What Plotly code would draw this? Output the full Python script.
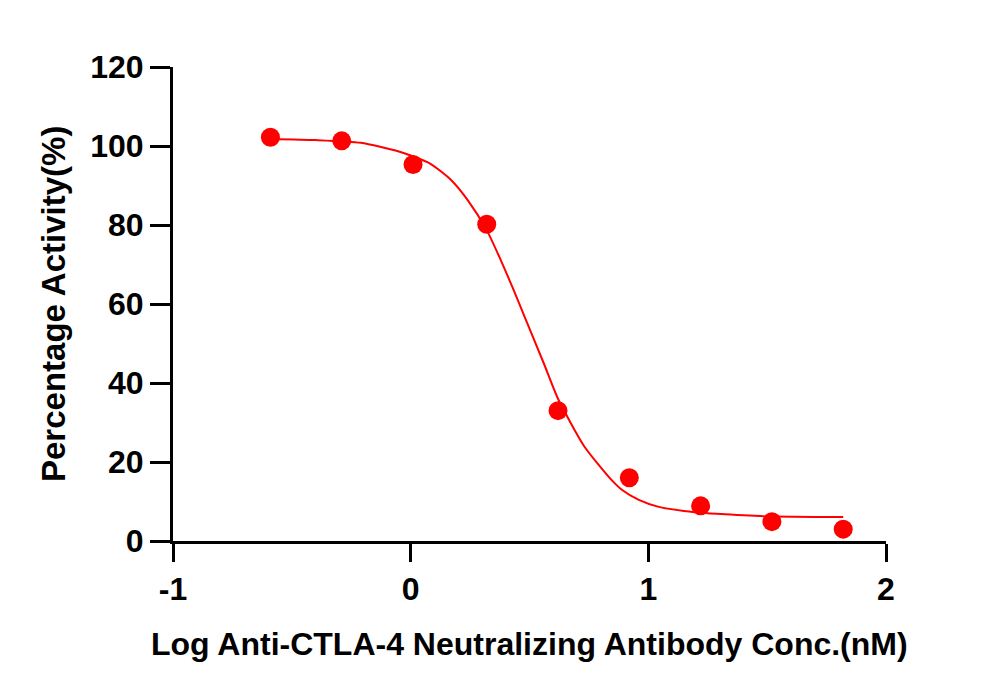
import plotly.graph_objects as go

# Measured data points
log_conc = [-0.59, -0.29, 0.01, 0.32, 0.62, 0.92, 1.22, 1.52, 1.82]
activity = [102.2, 101.3, 95.3, 80.2, 33.0, 16.0, 8.9, 4.9, 3.0]

# Fitted curve
curve_x = [-0.59, -0.40, -0.21, -0.05, 0.08, 0.17, 0.24, 0.32, 0.38, 0.43, 0.48,
           0.56, 0.62, 0.73, 0.84, 0.89, 0.96, 1.04, 1.15, 1.25, 1.40, 1.52, 1.70, 1.82]
curve_y = [101.8, 101.5, 100.8, 98.6, 95.6, 91.4, 86.3, 78.7, 71.0, 64.0, 56.7,
           45.0, 36.0, 24.0, 15.8, 12.9, 10.4, 8.7, 7.6, 7.0, 6.5, 6.2, 6.1, 6.1]

x_ticks = [-1, 0, 1, 2]
y_ticks = [0, 20, 40, 60, 80, 100, 120]
x_title = "Log Anti-CTLA-4 Neutralizing Antibody Conc.(nM)"
y_title = "Percentage Activity(%)"

RED = "#FF0000"
FONT = "Liberation Sans, Arial, sans-serif"

fig = go.Figure()
fig.add_trace(go.Scatter(x=curve_x, y=curve_y, mode="lines",
                         line=dict(color=RED, width=2, shape="spline", smoothing=0.6),
                         hoverinfo="skip", showlegend=False))
fig.add_trace(go.Scatter(x=log_conc, y=activity, mode="markers",
                         marker=dict(color=RED, size=19), showlegend=False))

fig.update_layout(
    width=1000, height=696,
    paper_bgcolor="white", plot_bgcolor="white",
    margin=dict(l=165, r=122, t=59, b=163),
    font=dict(family=FONT, color="black"),
    showlegend=False,
)
fig.update_xaxes(
    range=[-1, 2], tickvals=x_ticks, ticktext=[str(v) for v in x_ticks],
    showgrid=False, zeroline=False,
    showline=True, linecolor="black", linewidth=3,
    ticks="outside", ticklen=18, tickwidth=3, tickcolor="black",
    tickfont=dict(size=32, family=FONT, weight="bold"),
)
fig.update_yaxes(
    range=[0, 120], tickvals=y_ticks,
    showgrid=False, zeroline=False,
    showline=True, linecolor="black", linewidth=3,
    ticks="outside", ticklen=20, tickwidth=3, tickcolor="black",
    tickfont=dict(size=32, family=FONT, weight="bold"),
)
fig.add_annotation(text="<b>" + x_title + "</b>", xref="paper", yref="paper",
                   x=0.5, y=0, yanchor="middle", xanchor="center", yshift=-103,
                   showarrow=False, font=dict(size=32, family=FONT, color="black"))
fig.add_annotation(text="<b>" + y_title + "</b>", xref="paper", yref="paper",
                   x=0, y=0.5, xanchor="center", yanchor="middle", xshift=-120,
                   textangle=-90, showarrow=False,
                   font=dict(size=33, family=FONT, color="black"))

fig.write_html("out.html")
